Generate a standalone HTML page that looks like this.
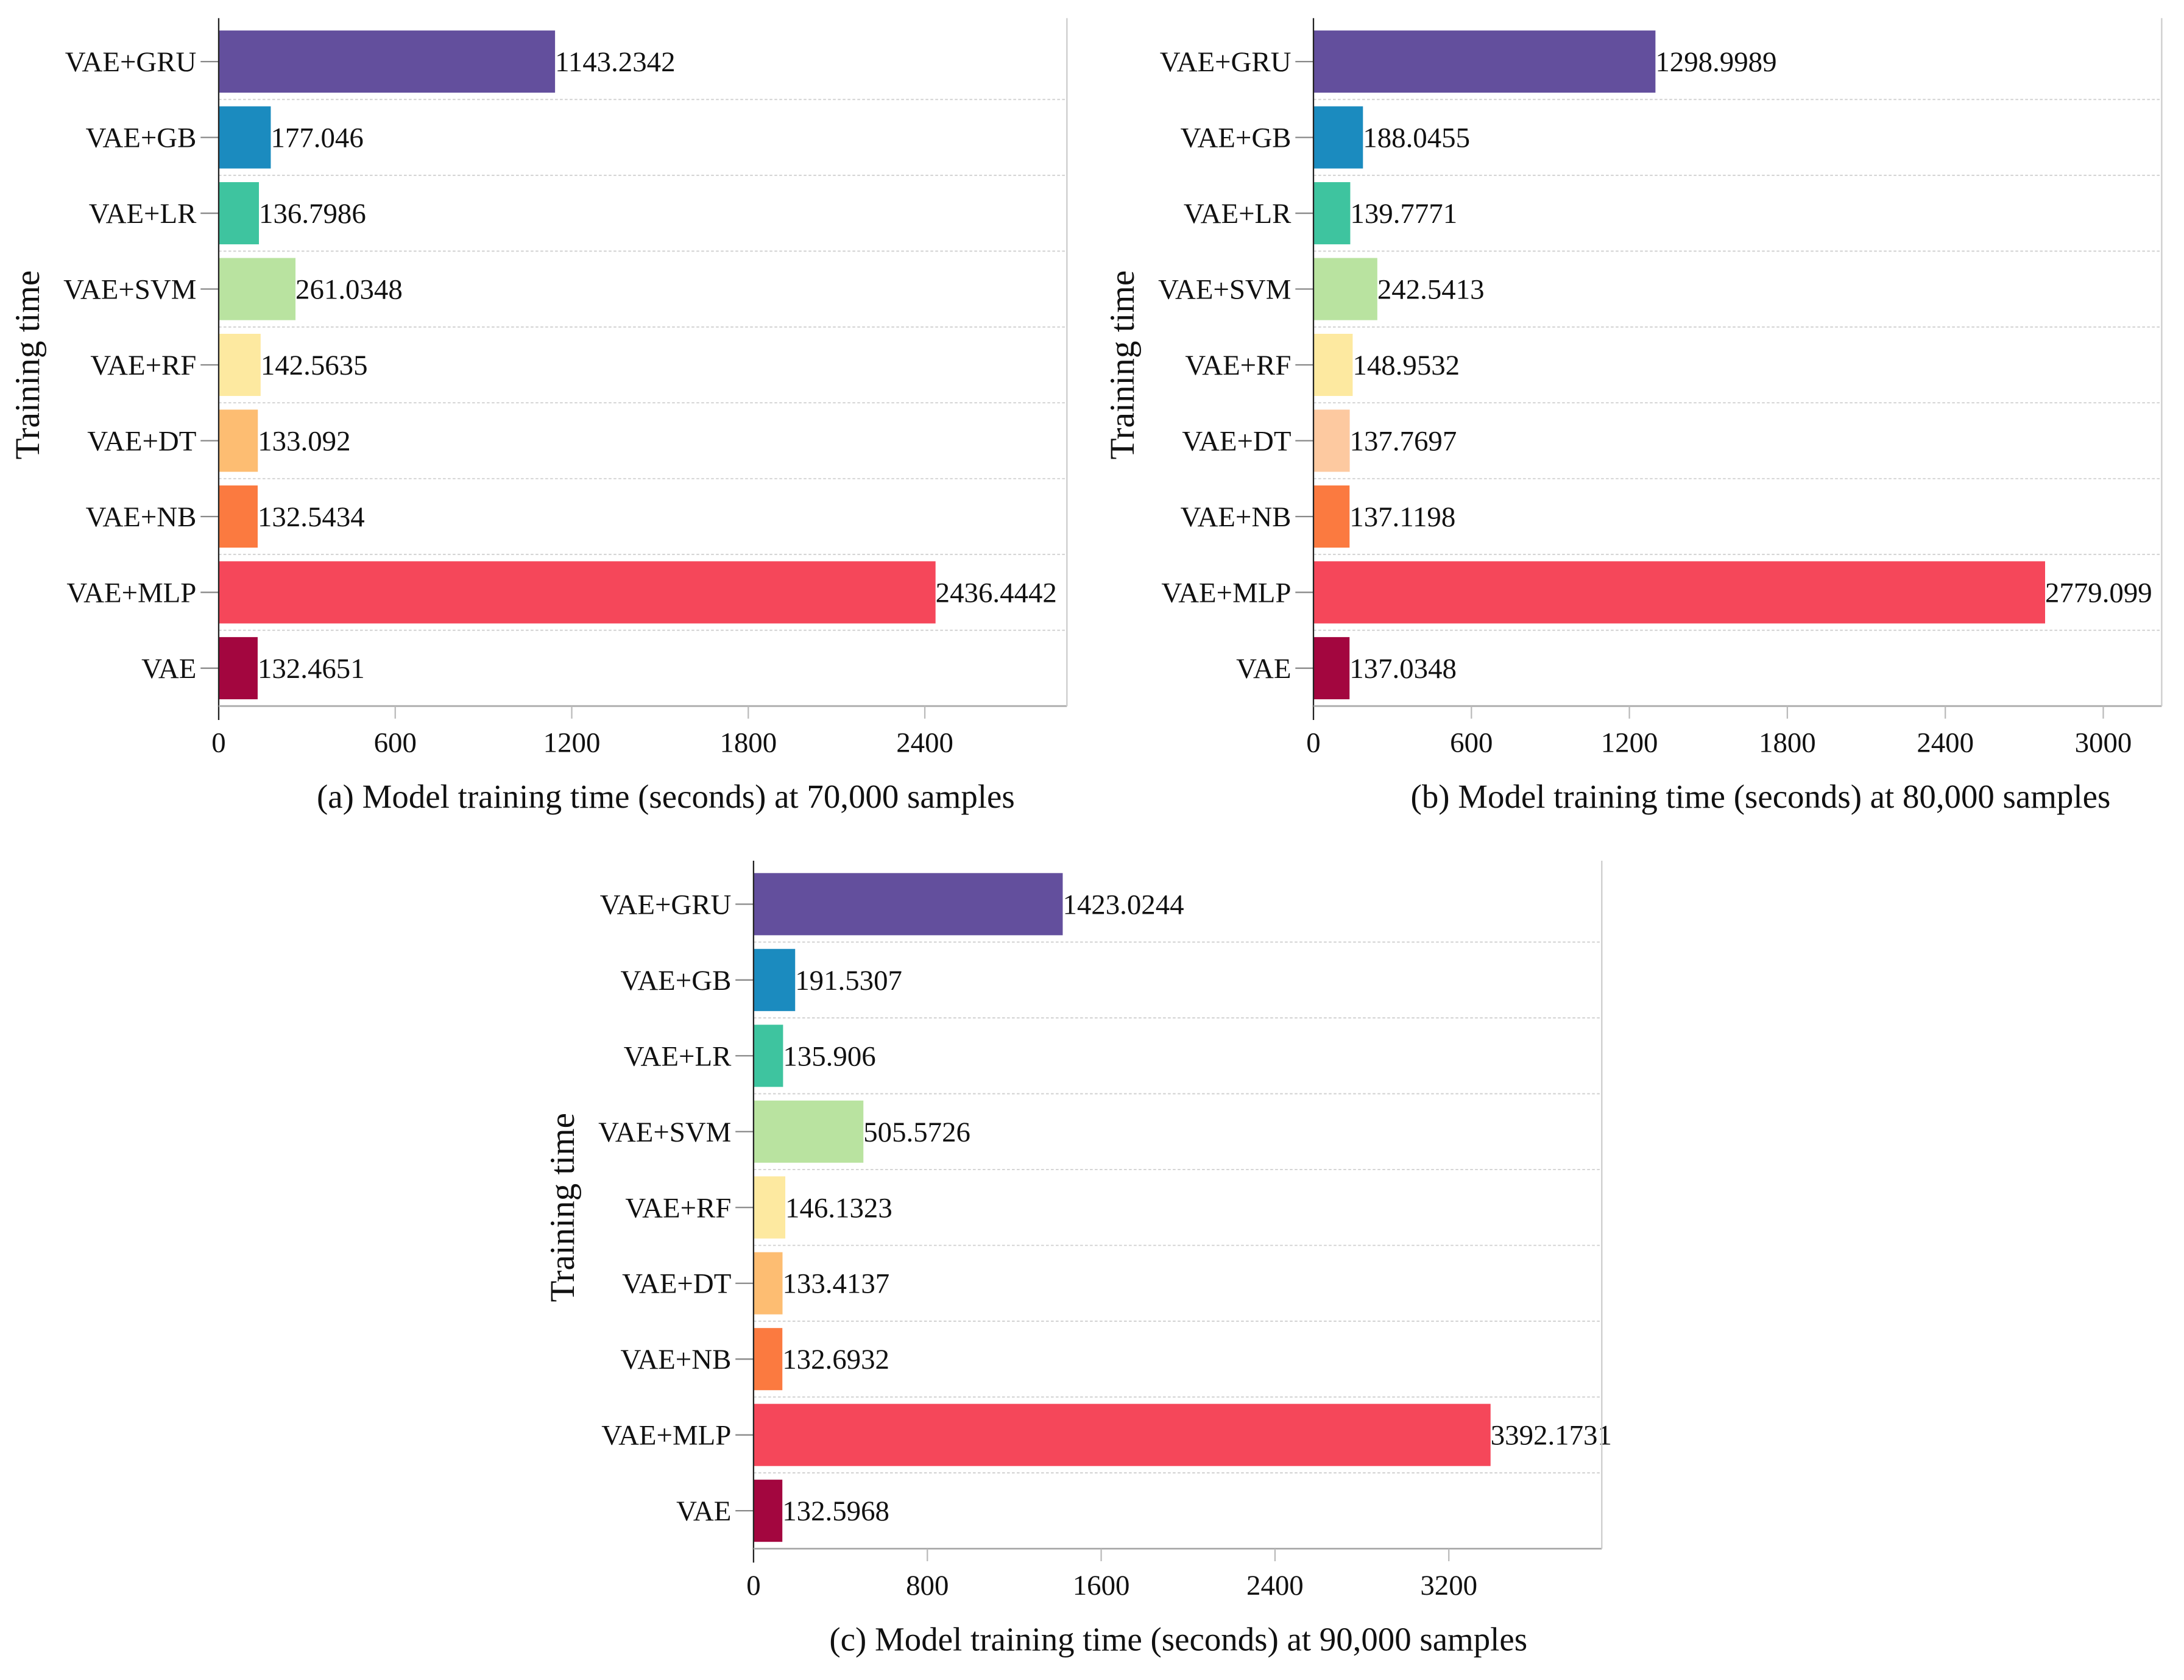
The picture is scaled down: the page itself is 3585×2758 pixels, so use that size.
<!DOCTYPE html>
<html><head><meta charset="utf-8"><title>Model training time</title>
<style>html,body{margin:0;padding:0;background:#fff;}svg{display:block;}text{font-family:"Liberation Serif",serif;fill:#111;}</style>
</head><body>
<svg id="chart" xmlns="http://www.w3.org/2000/svg" width="3585" height="2758" viewBox="0 0 1568 1206.3">
<rect x="0" y="0" width="1568" height="1207" fill="#fff"/>
<g id="root"></g>
</svg>
<script>
const categories = ["VAE+GRU","VAE+GB","VAE+LR","VAE+SVM","VAE+RF","VAE+DT","VAE+NB","VAE+MLP","VAE"];
const valuesA = [1143.2342,177.046,136.7986,261.0348,142.5635,133.092,132.5434,2436.4442,132.4651];
const valuesB = [1298.9989,188.0455,139.7771,242.5413,148.9532,137.7697,137.1198,2779.099,137.0348];
const valuesC = [1423.0244,191.5307,135.906,505.5726,146.1323,133.4137,132.6932,3392.1731,132.5968];
const labelsA = ["1143.2342","177.046","136.7986","261.0348","142.5635","133.092","132.5434","2436.4442","132.4651"];
const labelsB = ["1298.9989","188.0455","139.7771","242.5413","148.9532","137.7697","137.1198","2779.099","137.0348"];
const labelsC = ["1423.0244","191.5307","135.906","505.5726","146.1323","133.4137","132.6932","3392.1731","132.5968"];
const ticksA = [0,600,1200,1800,2400];
const ticksB = [0,600,1200,1800,2400,3000];
const ticksC = [0,800,1600,2400,3200];
const colorsA = ["#634f9d","#1b8bbf","#3ec49f","#b9e3a0","#fde9a0","#fdbd72","#fb7a40","#f5475a","#a3063f"];
const colorsB = ["#634f9d","#1b8bbf","#3ec49f","#b9e3a0","#fde9a0","#fdc9a0","#fb7a40","#f5475a","#a3063f"];
const colorsC = ["#634f9d","#1b8bbf","#3ec49f","#b9e3a0","#fde9a0","#fdbd72","#fb7a40","#f5475a","#a3063f"];

const NS="http://www.w3.org/2000/svg";
const root=document.getElementById('root');
function mk(tag,attrs,parent){const e=document.createElementNS(NS,tag);for(const k in attrs)e.setAttribute(k,attrs[k]);(parent||root).appendChild(e);return e;}

function panel(id,L,R,T,B,xmax,vals,labs,ticks,cols,caption,capX){
  const g=mk('g',{});
  
  
  const x=v=>L+(v/xmax)*(R-L);
  const band=(B-T)/categories.length;
  const y=i=>T+band*(i+0.5);
  const bh=band*0.82;
  for(let i=1;i<categories.length;i++){
    const gl=mk('line',{x1:L,x2:R,y1:T+band*i,y2:T+band*i,stroke:'#cfcfcf','stroke-width':0.8,'stroke-dasharray':'2,1.5'},g);
    
    
  }
  vals.forEach((v,i)=>{
    const r=mk('rect',{x:L,y:y(i)-bh/2,width:x(v)-L,height:bh,fill:cols[i]},g);
    
    
    const t=mk('text',{x:x(v),y:y(i)+7,'font-size':20.5},g);
    t.textContent=labs[i];
    
    
    const tk=mk('line',{x1:L-13,x2:L,y1:y(i),y2:y(i),stroke:'#888','stroke-width':1},g);
    
    
    const cl=mk('text',{x:L-16,y:y(i)+7,'font-size':20.5,'text-anchor':'end'},g);
    cl.textContent=categories[i];
    
    
  });
  const sl=mk('line',{x1:L,x2:L,y1:T-4,y2:B+10,stroke:'#222','stroke-width':1},g);
  
  
  const sb=mk('line',{x1:L,x2:R,y1:B,y2:B,stroke:'#aaa','stroke-width':1.2},g);
  
  
  const sr=mk('line',{x1:R,x2:R,y1:T-4,y2:B,stroke:'#ccc','stroke-width':1},g);
  
  
  ticks.forEach(tv=>{
    if(tv>0){const tl=mk('line',{x1:x(tv),x2:x(tv),y1:B,y2:B+9,stroke:'#bbb','stroke-width':1},g);
    
    }
    const tt=mk('text',{x:x(tv),y:B+33,'font-size':20.5,'text-anchor':'middle'},g);
    tt.textContent=String(tv);
    
    
  });
  const yt=mk('text',{x:0,y:0,'font-size':25,'text-anchor':'middle',transform:`translate(${L-129},${(T+B)/2}) rotate(-90)`},g);
  yt.textContent='Training time';
  
  
  const cp=mk('text',{x:capX,y:B+73,'font-size':24,'text-anchor':'middle'},g);
  cp.textContent=caption;
  
  
}
panel('a',157,766,17,507,2883,valuesA,labelsA,ticksA,colorsA,'(a) Model training time (seconds) at 70,000 samples',478);
panel('b',943,1552,17,507,3222,valuesB,labelsB,ticksB,colorsB,'(b) Model training time (seconds) at 80,000 samples',1264);
panel('c',541,1150,622,1112,3904,valuesC,labelsC,ticksC,colorsC,'(c) Model training time (seconds) at 90,000 samples',846);
</script>
</body></html>
